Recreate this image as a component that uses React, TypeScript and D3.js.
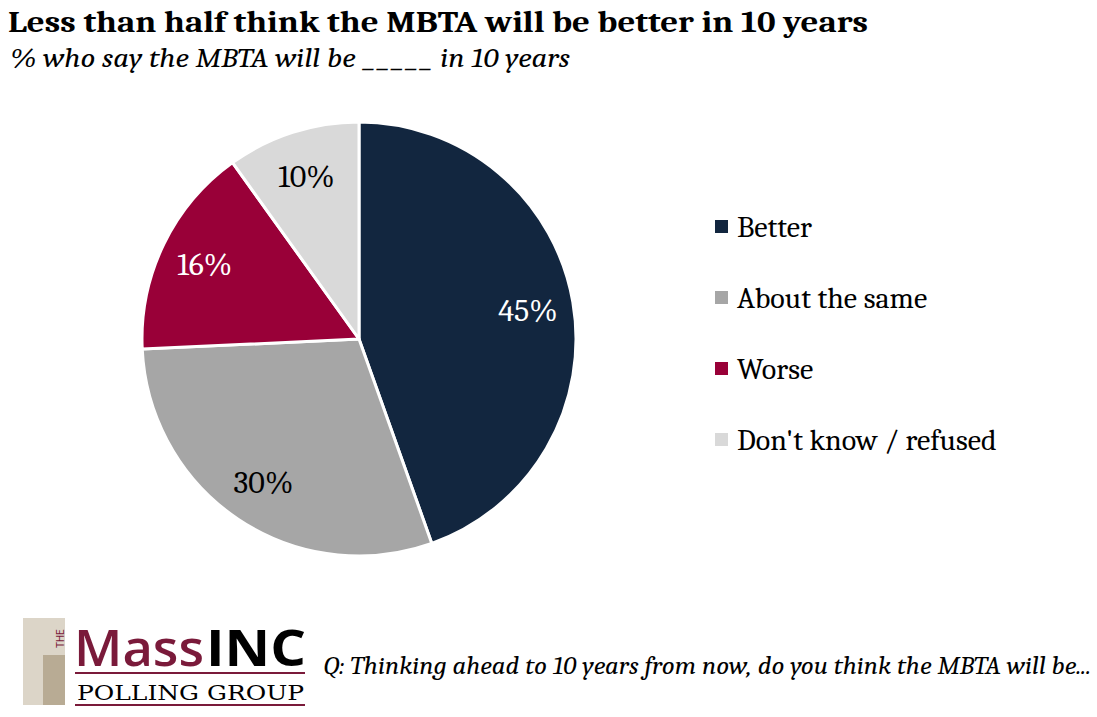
import React, { useRef, useEffect } from 'react';
import * as d3 from 'd3';

const categories: string[] = ['Better', 'About the same', 'Worse', "Don't know / refused"];
const values: number[] = [45, 30, 16, 10];
const colors: string[] = ['#12263f', '#a6a6a6', '#990038', '#d9d9d9'];
const labelColors: string[] = ['#ffffff', '#000000', '#ffffff', '#000000'];

const title = 'Less than half think the MBTA will be better in 10 years';
const subtitle = '% who say the MBTA will be _____ in 10 years';
const footnote = 'Q: Thinking ahead to 10 years from now, do you think the MBTA will be...';

const width = 1097;
const height = 717;
const serif = 'Cambria, "DejaVu Serif", "Liberation Serif", serif';
const italicSerif = 'Cambria, "Liberation Serif", serif';

function App() {
    const ref = useRef<SVGSVGElement>(null);

    useEffect(() => {
        document.body.style.margin = '0';
        if (!ref.current) return;
        const svg = d3.select(ref.current);
        svg.selectAll('*').remove();

        svg.append('rect').attr('width', width).attr('height', height).attr('fill', '#fff');

        svg.append('text')
            .attr('x', 8).attr('y', 32)
            .attr('font-family', serif).attr('font-weight', 'bold').attr('font-size', 30)
            .attr('textLength', 860).attr('lengthAdjust', 'spacingAndGlyphs')
            .text(title);

        svg.append('text')
            .attr('x', 10).attr('y', 67)
            .attr('font-family', italicSerif).attr('font-style', 'italic').attr('font-size', 28)
            .attr('textLength', 560).attr('lengthAdjust', 'spacingAndGlyphs')
            .text(subtitle);

        // pie
        const cx = 359, cy = 339, r = 217;
        const pie = d3.pie<number>().sort(null).value(d => d);
        const arcs = pie(values);
        const arc = d3.arc<d3.PieArcDatum<number>>().innerRadius(0).outerRadius(r);
        const labelArc = d3.arc<d3.PieArcDatum<number>>().innerRadius(r * 0.79).outerRadius(r * 0.79);

        const g = svg.append('g').attr('transform', `translate(${cx},${cy})`);
        g.selectAll('path')
            .data(arcs)
            .join('path')
            .attr('d', arc)
            .attr('fill', (_d, i) => colors[i])
            .attr('stroke', '#fff')
            .attr('stroke-width', 3)
            .attr('stroke-linejoin', 'round');

        g.selectAll('text')
            .data(arcs)
            .join('text')
            .attr('transform', d => `translate(${labelArc.centroid(d)})`)
            .attr('text-anchor', 'middle')
            .attr('dy', '0.35em')
            .attr('font-family', serif)
            .attr('font-size', 32)
            .attr('fill', (_d, i) => labelColors[i])
            .text(d => `${d.data}%`);

        // legend
        const ly = d3.scalePoint<string>().domain(categories).range([226, 439]);
        const leg = svg.append('g')
            .selectAll('g')
            .data(categories)
            .join('g')
            .attr('transform', d => `translate(715,${ly(d)})`);
        leg.append('rect')
            .attr('x', 0).attr('y', -6)
            .attr('width', 13).attr('height', 13)
            .attr('fill', (_d, i) => colors[i]);
        leg.append('text')
            .attr('x', 22).attr('dy', '0.35em')
            .attr('font-family', serif).attr('font-size', 30)
            .text(d => d);

        // footnote
        svg.append('text')
            .attr('x', 323).attr('y', 674)
            .attr('font-family', italicSerif).attr('font-style', 'italic').attr('font-size', 25)
            .attr('textLength', 768).attr('lengthAdjust', 'spacingAndGlyphs')
            .text(footnote);

        // logo
        const logo = svg.append('g');
        logo.append('rect').attr('x', 23).attr('y', 618).attr('width', 42).attr('height', 87).attr('fill', '#dcd5c8');
        logo.append('rect').attr('x', 43).attr('y', 655).attr('width', 22).attr('height', 50).attr('fill', '#b8ab94');
        logo.append('text')
            .attr('transform', 'translate(64,648) rotate(-90)')
            .attr('font-family', 'Roboto, sans-serif').attr('font-size', 10)
            .attr('fill', '#7a1a3a')
            .text('THE');
        logo.append('text')
            .attr('x', 74).attr('y', 666)
            .attr('font-family', '"Open Sans", Roboto, sans-serif').attr('font-size', 50).attr('font-weight', 600)
            .attr('fill', '#7a1a3a')
            .attr('textLength', 130).attr('lengthAdjust', 'spacingAndGlyphs')
            .text('Mass');
        logo.append('text')
            .attr('x', 206).attr('y', 666)
            .attr('font-family', '"Open Sans", Roboto, sans-serif').attr('font-size', 50).attr('font-weight', 'bold')
            .attr('fill', '#000')
            .attr('textLength', 100).attr('lengthAdjust', 'spacingAndGlyphs')
            .text('INC');
        logo.append('rect').attr('x', 75).attr('y', 672).attr('width', 230).attr('height', 2).attr('fill', '#7a1a3a');
        logo.append('rect').attr('x', 75).attr('y', 704).attr('width', 230).attr('height', 2).attr('fill', '#7a1a3a');
        logo.append('text')
            .attr('x', 77).attr('y', 700)
            .attr('font-family', '"DejaVu Serif", serif').attr('font-size', 20)
            .attr('textLength', 227).attr('lengthAdjust', 'spacingAndGlyphs')
            .text('POLLING GROUP');
    }, []);

    return <svg ref={ref} width={width} height={height} style={{ display: 'block' }} />;
}

export default App;
